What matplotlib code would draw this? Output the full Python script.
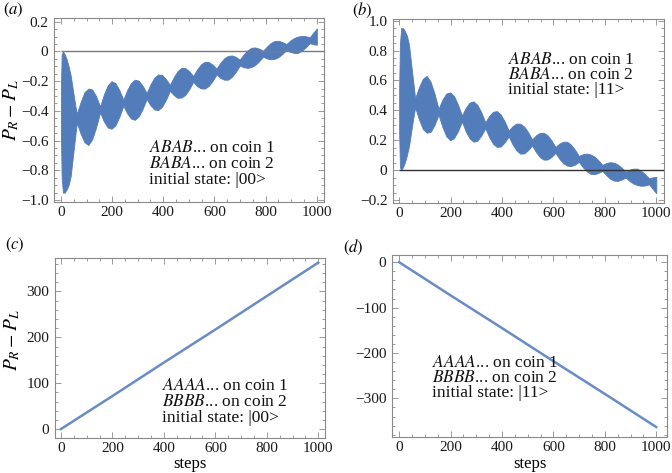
import matplotlib
matplotlib.use("Agg")
import matplotlib.pyplot as plt
from matplotlib.ticker import MultipleLocator, FuncFormatter

plt.rcParams['font.family'] = ['Liberation Serif', 'DejaVu Serif']
plt.rcParams['mathtext.fontset'] = 'stix'

# ---------------- data ----------------
steps = [0, 3, 8, 15, 22, 30, 38, 46, 54, 62, 77, 92, 107, 122, 137, 153, 168, 183,
         198, 213, 228, 244, 259, 274, 289, 304, 319, 335, 350, 365, 380, 395, 410,
         426, 441, 456, 471, 486, 501, 517, 532, 547, 562, 577, 592, 608, 623, 638,
         653, 668, 683, 699, 714, 729, 744, 759, 774, 790, 805, 820, 835, 850, 865,
         881, 896, 911, 926, 941, 956, 972, 987, 1000]

# panel (a): upper / lower envelope of the fast oscillation
a_upper = [-0.25, -0.02, 0.0, -0.02, -0.05, -0.10, -0.16, -0.25, -0.34, -0.42,
           -0.34, -0.275, -0.25, -0.256, -0.30, -0.37,
           -0.289, -0.228, -0.20, -0.213, -0.259, -0.325,
           -0.259, -0.212, -0.19, -0.197, -0.23, -0.28,
           -0.221, -0.176, -0.155, -0.158, -0.185, -0.225,
           -0.172, -0.132, -0.11, -0.112, -0.133, -0.165,
           -0.121, -0.087, -0.07, -0.071, -0.088, -0.115,
           -0.076, -0.046, -0.03, -0.027, -0.036, -0.055,
           -0.02, 0.007, 0.025, 0.027, 0.019, 0.005,
           0.033, 0.057, 0.07, 0.072, 0.063, 0.05,
           0.073, 0.09, 0.10, 0.105, 0.103, 0.095, 0.128, 0.155]
a_lower = [-0.55, -0.85, -0.95, -0.95, -0.93, -0.90, -0.84, -0.72, -0.60, -0.48,
           -0.554, -0.611, -0.63, -0.592, -0.514, -0.41,
           -0.471, -0.512, -0.52, -0.497, -0.441, -0.365,
           -0.417, -0.452, -0.46, -0.437, -0.388, -0.32,
           -0.363, -0.39, -0.395, -0.372, -0.327, -0.265,
           -0.294, -0.312, -0.31, -0.292, -0.255, -0.205,
           -0.233, -0.249, -0.25, -0.233, -0.20, -0.155,
           -0.178, -0.19, -0.19, -0.171, -0.138, -0.095,
           -0.106, -0.111, -0.105, -0.091, -0.067, -0.035,
           -0.047, -0.053, -0.05, -0.038, -0.017, 0.01,
           -0.003, -0.01, -0.01, 0.005, 0.027, 0.055, 0.048, 0.045]

# panel (b)
b_upper = [0.55, 0.85, 0.95, 0.95, 0.93, 0.90, 0.84, 0.72, 0.60, 0.48,
           0.554, 0.611, 0.63, 0.592, 0.514, 0.41,
           0.471, 0.512, 0.52, 0.497, 0.441, 0.365,
           0.417, 0.452, 0.46, 0.437, 0.388, 0.32,
           0.363, 0.39, 0.395, 0.372, 0.327, 0.265,
           0.294, 0.312, 0.31, 0.292, 0.255, 0.205,
           0.233, 0.249, 0.25, 0.233, 0.20, 0.155,
           0.178, 0.19, 0.19, 0.171, 0.138, 0.095,
           0.106, 0.111, 0.105, 0.091, 0.067, 0.035,
           0.047, 0.053, 0.05, 0.038, 0.017, -0.01,
           0.003, 0.01, 0.01, -0.005, -0.027, -0.055, -0.048, -0.045]
b_lower = [0.25, 0.02, 0.0, 0.02, 0.05, 0.10, 0.16, 0.25, 0.34, 0.42,
           0.34, 0.275, 0.25, 0.256, 0.30, 0.37,
           0.289, 0.228, 0.20, 0.213, 0.259, 0.325,
           0.259, 0.212, 0.19, 0.197, 0.23, 0.28,
           0.221, 0.176, 0.155, 0.158, 0.185, 0.225,
           0.172, 0.132, 0.11, 0.112, 0.133, 0.165,
           0.121, 0.087, 0.07, 0.071, 0.088, 0.115,
           0.076, 0.046, 0.03, 0.027, 0.036, 0.055,
           0.02, -0.007, -0.025, -0.027, -0.019, -0.005,
           -0.033, -0.057, -0.07, -0.072, -0.063, -0.05,
           -0.073, -0.09, -0.10, -0.105, -0.103, -0.095, -0.128, -0.155]

# panels (c), (d)
lin_steps = [0, 200, 400, 600, 800, 1000]
c_vals = [0, 72, 145, 217, 290, 363]
d_vals = [0, -73, -145, -218, -290, -363]

labels = ['a', 'b', 'c', 'd']
notes = [("ABAB", "BABA", "|00>"), ("ABAB", "BABA", "|11>"),
         ("AAAA", "BBBB", "|00>"), ("AAAA", "BBBB", "|11>")]
ylabel = r'$P_R - P_L$'
xlabel = 'steps'

# ---------------- style ----------------
W, H = 672, 473
BLUE = '#537cba'
LINE = '#6a8cc6'
FRAME = '#8a8a8a'

fig = plt.figure(figsize=(W / 100, H / 100), dpi=100)


def rect(l, r, t, b):
    return [l / W, 1 - b / H, (r - l) / W, (b - t) / H]


def fmt_dec(v, pos):
    if abs(v) < 1e-9:
        return '0'
    return f'{v:.1f}'.replace('-', '\u2212')


def fmt_int(v, pos):
    return f'{int(round(v))}'.replace('-', '\u2212')


def style(ax, ymaj, ymin, yfmt):
    for s in ax.spines.values():
        s.set_color(FRAME)
        s.set_linewidth(0.8)
    ax.xaxis.set_major_locator(MultipleLocator(200))
    ax.xaxis.set_minor_locator(MultipleLocator(50))
    ax.yaxis.set_major_locator(MultipleLocator(ymaj))
    ax.yaxis.set_minor_locator(MultipleLocator(ymin))
    ax.yaxis.set_major_formatter(FuncFormatter(yfmt))
    ax.tick_params(which='both', direction='in', top=True, right=True,
                   color=FRAME, width=0.6, labelsize=11, labelcolor='#1a1a1a')
    ax.tick_params(which='major', length=4, pad=4)
    ax.tick_params(axis='x', which='major', pad=3)
    ax.tick_params(which='minor', length=2.2)


def ftext(px, py, s, **kw):
    return fig.text(px / W, 1 - py / H, s, **kw)


def note(px, py, n, dy=16):
    a, b, st = n
    lines = [rf'$\mathit{{{a}}}$... on coin 1', rf'$\mathit{{{b}}}$... on coin 2',
             f'initial state: {st}']
    for i, s in enumerate(lines):
        ftext(px, py + i * dy, s, fontsize=12.5, va='center', ha='left', color='#111')


# (a)
ax = fig.add_axes(rect(54, 324, 18, 202))
ax.fill_between(steps, a_lower, a_upper, color=BLUE, lw=0.6, edgecolor=BLUE)
ax.set_xlim(-27, 1028)
ax.set_ylim(-1.013, 0.225)
ax.hlines(0, 0, 1028, color='#7a7a7a', lw=1.0, zorder=5)
style(ax, 0.2, 0.05, fmt_dec)
note(149, 148, notes[0])
ftext(11, 110, ylabel, fontsize=14, rotation=90, va='center', ha='center')

# (b)
ax = fig.add_axes(rect(393, 664, 19, 203))
ax.fill_between(steps, b_lower, b_upper, color=BLUE, lw=0.6, edgecolor=BLUE)
ax.set_xlim(-24, 1030)
ax.set_ylim(-0.22, 1.011)
ax.hlines(0, 0, 1030, color='#333333', lw=1.0, zorder=5)
style(ax, 0.2, 0.05, fmt_dec)
note(508, 60, notes[1], dy=15)

# (c)
ax = fig.add_axes(rect(55, 325, 258, 438))
ax.plot(lin_steps, c_vals, color=LINE, lw=1.8)
ax.set_xlim(-23, 1026)
ax.set_ylim(-19.5, 373)
style(ax, 100, 20, fmt_int)
ftext(12, 340, ylabel, fontsize=14, rotation=90, va='center', ha='center')
ftext(190, 464, xlabel, fontsize=12, va='center', ha='center')
note(162, 386, notes[2])

# (d)
ax = fig.add_axes(rect(392, 667, 255, 437))
ax.plot(lin_steps, d_vals, color=LINE, lw=1.8)
ax.set_xlim(-28, 1042)
ax.set_ylim(-385, 16)
style(ax, 100, 20, fmt_int)
ftext(530, 464, xlabel, fontsize=12, va='center', ha='center')
note(432, 363, notes[3], dy=15)

# panel letters
for letter, (px, py) in zip(labels, [(3, 10), (352, 10), (5, 245), (343, 247)]):
    ftext(px, py, rf'$(\mathit{{{letter}}})$', fontsize=12, va='center', ha='left')

fig.savefig('out.png', dpi=100)
